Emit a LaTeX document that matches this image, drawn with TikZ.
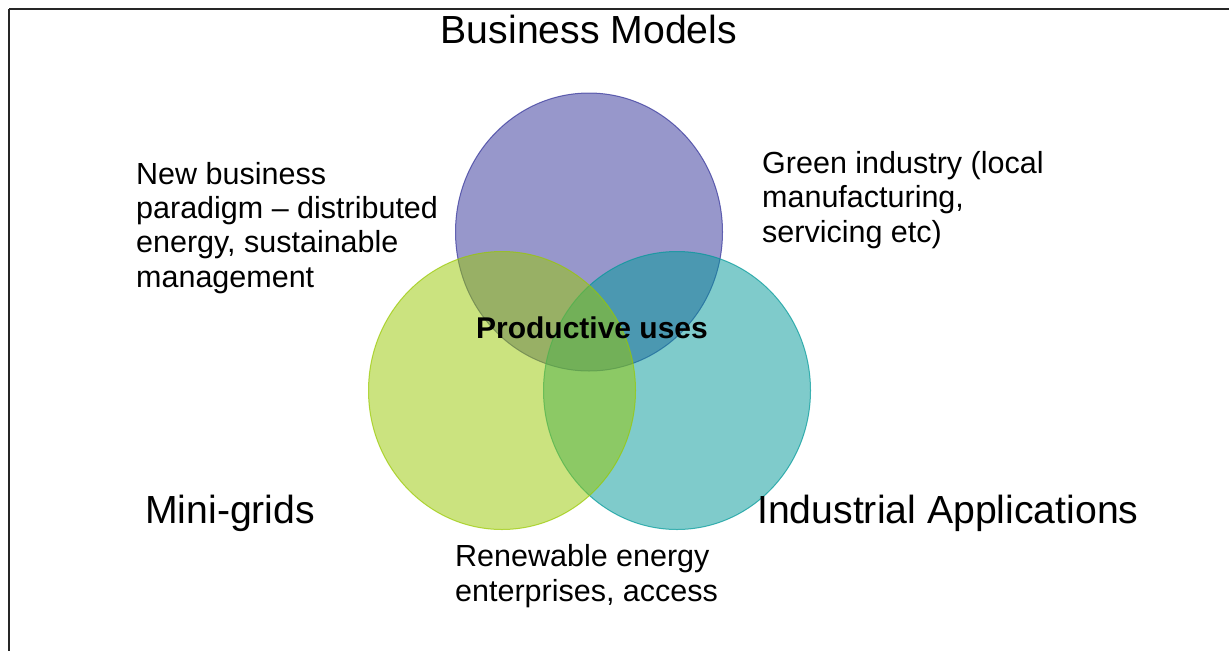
\documentclass[tikz,border=0pt]{standalone}
\usepackage{fontspec}
\setmainfont{Liberation Sans}
\definecolor{purpleC}{RGB}{49,49,153}
\definecolor{tealC}{RGB}{0,153,153}
\definecolor{greenC}{RGB}{153,201,0}
\tikzset{
  venn/.style={fill opacity=0.5, draw opacity=0.7, line width=1pt},
  bigtxt/.style={inner sep=0pt, font=\fontsize{39.2}{45}\selectfont},
  smalltxt/.style={inner sep=0pt, align=left, font=\fontsize{30.5}{34.3}\selectfont},
  frame/.style={line width=2pt, draw=black!85}
}
\begin{document}
\begin{tikzpicture}[x=1pt,y=-1pt]
\useasboundingbox (0,0) rectangle (1229,651);
\fill[white] (0,0) rectangle (1229,651);
\coordinate (tl) at (9,9);
\coordinate (tr) at (1229,9);
\coordinate (bl) at (9,651);
\draw[frame] (tl) -- (tr);
\draw[frame] (tl) -- (bl);
% circles
\path[venn, fill=purpleC, draw=purpleC] (589,232) ellipse [x radius=133.5pt, y radius=139pt];
\path[venn, fill=tealC, draw=tealC] (677,390.5) ellipse [x radius=133.5pt, y radius=139pt];
\path[venn, fill=greenC, draw=greenC] (502,390.5) ellipse [x radius=133.5pt, y radius=139pt];
% labels (base anchor = baseline of the last line)
\node[bigtxt, anchor=base] (bm) at (589,43) {Business Models};
\node[bigtxt, anchor=base west] (mg) at (145,523) {Mini-grids};
\node[bigtxt, anchor=base west] (ia) at (757,523) {Industrial Applications};
\node[smalltxt, anchor=base west] (nb) at (136,287) {New business\\paradigm -- distributed\\energy, sustainable\\management};
\node[smalltxt, anchor=base west] (gi) at (762,242) {Green industry (local\\manufacturing,\\servicing etc)};
\node[smalltxt, anchor=base west] (re) at (455,601) {Renewable energy\\enterprises, access};
\node[inner sep=0pt, anchor=base, font=\fontsize{30}{34}\selectfont\bfseries] (pu) at (592,338) {Productive uses};
\end{tikzpicture}
\end{document}
